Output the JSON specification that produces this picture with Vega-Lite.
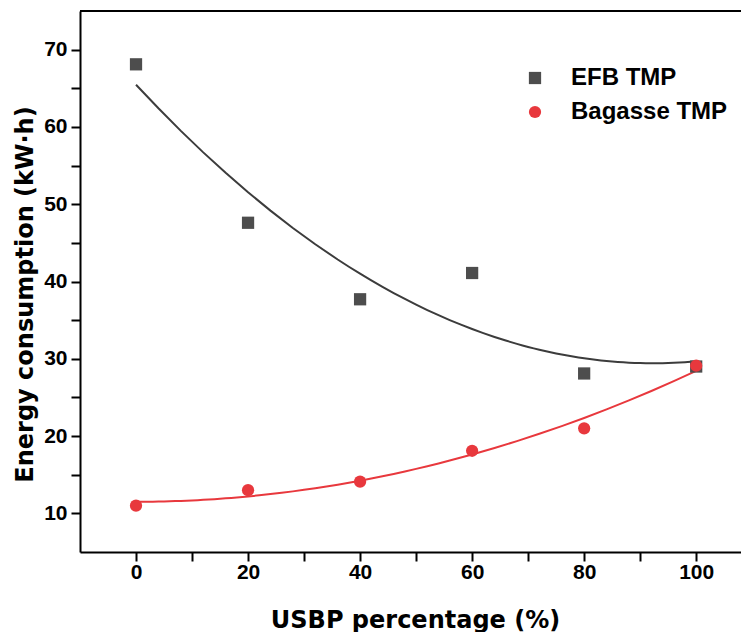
{
  "$schema": "https://vega.github.io/schema/vega-lite/v6.json",
  "width": 661,
  "height": 541,
  "autosize": {"type": "none"},
  "padding": {"left": 80, "top": 11, "right": 0, "bottom": 80},
  "background": "white",
  "config": {"view": {"stroke": null}, "font": "Liberation Sans"},
  "datasets": {
    "pts": [
      {"series": "EFB TMP", "x": 0, "y": 68.1},
      {"series": "EFB TMP", "x": 20, "y": 47.6},
      {"series": "EFB TMP", "x": 40, "y": 37.7},
      {"series": "EFB TMP", "x": 60, "y": 41.1},
      {"series": "EFB TMP", "x": 80, "y": 28.1},
      {"series": "EFB TMP", "x": 100, "y": 29.0},
      {"series": "Bagasse TMP", "x": 0, "y": 11.0},
      {"series": "Bagasse TMP", "x": 20, "y": 13.0},
      {"series": "Bagasse TMP", "x": 40, "y": 14.1},
      {"series": "Bagasse TMP", "x": 60, "y": 18.1},
      {"series": "Bagasse TMP", "x": 80, "y": 21.0},
      {"series": "Bagasse TMP", "x": 100, "y": 29.1}
    ]
  },
  "layer": [
    {
      "data": {"name": "pts"},
      "transform": [
        {"filter": "datum.series === 'EFB TMP'"},
        {"regression": "y", "on": "x", "method": "poly", "order": 2, "extent": [0, 100]}
      ],
      "mark": {"type": "line", "color": "#3c3c3c", "strokeWidth": 2},
      "encoding": {
        "x": {
          "field": "x",
          "type": "quantitative",
          "scale": {"domain": [-10, 108], "nice": false, "zero": false},
          "axis": {
            "values": [0, 10, 20, 30, 40, 50, 60, 70, 80, 90, 100],
            "labelExpr": "datum.value % 20 === 0 ? datum.label : ''",
            "tickSize": 9,
            "tickWidth": 2,
            "tickColor": "black",
            "encode": {"ticks": {"update": {"y2": {"signal": "datum.value % 20 === 0 ? -9 : -5"}}}},
            "domainColor": "black",
            "domainWidth": 2,
            "grid": false,
            "labelFont": "Liberation Sans",
            "labelFontWeight": "bold",
            "labelFontSize": 21,
            "labelColor": "black",
            "labelPadding": 0,
            "labelFlush": false,
            "labelOverlap": false,
            "title": "USBP percentage (%)",
            "titleFont": "DejaVu Sans",
            "titleFontWeight": "bold",
            "titleFontSize": 24,
            "titleColor": "black",
            "titleX": 335,
            "titleY": 75,
            "titleAlign": "center",
            "titleBaseline": "alphabetic"
          }
        },
        "y": {
          "field": "y",
          "type": "quantitative",
          "scale": {"domain": [5, 75], "nice": false, "zero": false},
          "axis": {
            "values": [10, 15, 20, 25, 30, 35, 40, 45, 50, 55, 60, 65, 70],
            "labelExpr": "datum.value % 10 === 0 ? datum.label : ''",
            "tickSize": 9,
            "tickWidth": 2,
            "tickColor": "black",
            "encode": {"ticks": {"update": {"x2": {"signal": "datum.value % 10 === 0 ? 9 : 5"}}}},
            "domainColor": "black",
            "domainWidth": 2,
            "grid": false,
            "labelFont": "Liberation Sans",
            "labelFontWeight": "bold",
            "labelFontSize": 21,
            "labelColor": "black",
            "labelPadding": 4,
            "labelBaseline": "middle",
            "labelFlush": false,
            "labelOverlap": false,
            "title": "Energy consumption (kW·h)",
            "titleFont": "DejaVu Sans",
            "titleFontWeight": "bold",
            "titleFontSize": 24,
            "titleColor": "black",
            "titleAngle": -90,
            "titleX": -48,
            "titleY": 283,
            "titleAlign": "center",
            "titleBaseline": "alphabetic"
          }
        }
      }
    },
    {
      "data": {"name": "pts"},
      "transform": [
        {"filter": "datum.series === 'Bagasse TMP'"},
        {"regression": "y", "on": "x", "method": "poly", "order": 2, "extent": [0, 100]}
      ],
      "mark": {"type": "line", "color": "#e8383d", "strokeWidth": 2},
      "encoding": {
        "x": {"field": "x", "type": "quantitative"},
        "y": {"field": "y", "type": "quantitative"}
      }
    },
    {
      "data": {"name": "pts"},
      "mark": {"type": "point", "filled": true, "opacity": 1, "size": 150},
      "encoding": {
        "x": {"field": "x", "type": "quantitative"},
        "y": {"field": "y", "type": "quantitative"},
        "color": {
          "field": "series",
          "type": "nominal",
          "scale": {"domain": ["EFB TMP", "Bagasse TMP"], "range": ["#4d4d4d", "#e8383d"]},
          "legend": {
            "orient": "none",
            "legendX": 443,
            "legendY": 55,
            "title": null,
            "padding": 0,
            "labelFont": "Liberation Sans",
            "labelFontWeight": "bold",
            "labelFontSize": 24,
            "labelColor": "black",
            "labelOffset": 24,
            "rowPadding": 10,
            "symbolSize": 150,
            "symbolOpacity": 1
          }
        },
        "shape": {
          "field": "series",
          "type": "nominal",
          "scale": {"domain": ["EFB TMP", "Bagasse TMP"], "range": ["square", "circle"]}
        }
      }
    },
    {
      "data": {"values": [{"v": 75}]},
      "mark": {"type": "rule", "color": "black", "strokeWidth": 2},
      "encoding": {"y": {"field": "v", "type": "quantitative"}}
    }
  ]
}
